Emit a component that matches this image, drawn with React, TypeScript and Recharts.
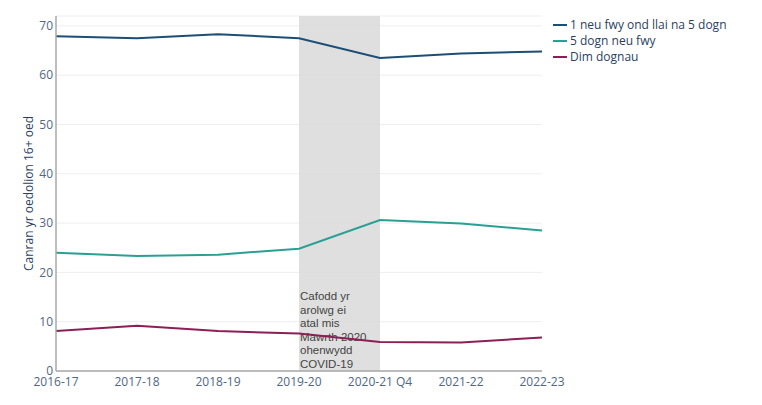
import React from "react";
import { LineChart, Line, XAxis, YAxis, CartesianGrid, ReferenceArea } from "recharts";

const categories = ["2016-17", "2017-18", "2018-19", "2019-20", "2020-21 Q4", "2021-22", "2022-23"];
const series1 = [67.9, 67.5, 68.3, 67.5, 63.5, 64.4, 64.8];
const series5 = [24.0, 23.3, 23.6, 24.8, 30.6, 29.9, 28.5];
const seriesNone = [8.1, 9.2, 8.1, 7.6, 5.9, 5.8, 6.8];
const yTicks = [0, 10, 20, 30, 40, 50, 60, 70];
const seriesNames = ["1 neu fwy ond llai na 5 dogn", "5 dogn neu fwy", "Dim dognau"];
const seriesColors = ["#1d4e75", "#2aa094", "#8c1f56"];
const noteLines = ["Cafodd yr", "arolwg ei", "atal mis", "Mawrth 2020", "ohenwydd", "COVID-19"];
const yLabel = "Canran yr oedolion 16+ oed";

const data = categories.map((c, i) => ({
  cat: c,
  s1: series1[i],
  s5: series5[i],
  s0: seriesNone[i],
}));

const NoteLabel = (props: any) => {
  const vb = props.viewBox || {};
  const x = (vb.x ?? 0) + 1;
  const bottom = (vb.y ?? 0) + (vb.height ?? 0);
  const lh = 13.6;
  return (
    <text fontFamily="'Liberation Sans', Arial, sans-serif" fontSize={11.5} fill="#444">
      {noteLines.map((l, i) => (
        <tspan key={i} x={x} y={bottom - 3 - (noteLines.length - 1 - i) * lh}>
          {l}
        </tspan>
      ))}
    </text>
  );
};

const YLabel = (props: any) => {
  const vb = props.viewBox || {};
  const cx = (vb.x ?? 0) + 2;
  const cy = (vb.y ?? 0) + (vb.height ?? 0) / 2;
  return (
    <text
      x={cx}
      y={cy}
      transform={`rotate(-90 ${cx} ${cy})`}
      textAnchor="middle"
      dominantBaseline="central"
      fill="#2a3f5f"
      fontSize={12}
      fontFamily="'Open Sans', sans-serif"
    >
      {yLabel}
    </text>
  );
};

const LegendBox = () => (
  <div
    style={{
      position: "absolute",
      left: 553,
      top: 17,
      fontFamily: "'Open Sans', sans-serif",
      fontSize: 12,
      color: "#2a3f5f",
      lineHeight: "16px",
    }}
  >
    {seriesNames.map((n, i) => (
      <div key={i} style={{ display: "flex", alignItems: "center", height: 16 }}>
        <span style={{ display: "inline-block", width: 14, height: 2, background: seriesColors[i], marginRight: 3 }} />
        <span>{n}</span>
      </div>
    ))}
  </div>
);

export default function App() {
  return (
    <div style={{ position: "absolute", left: 0, top: 0, width: 762, height: 405, background: "#fff" }}>
      <LineChart width={762} height={405} data={data} margin={{ top: 16, right: 220, bottom: 0, left: 26 }}>
        <CartesianGrid horizontal vertical={false} stroke="#eeeeee" strokeWidth={1} />
        <ReferenceArea x1="2019-20" x2="2020-21 Q4" y1={0} y2={72} fill="#d9d9d9" fillOpacity={0.85} stroke="none" label={<NoteLabel />} />
        <XAxis
          dataKey="cat"
          interval={0}
          padding={{ left: 0, right: 0 }}
          tickLine={false}
          axisLine={{ stroke: "#a8a8a8", strokeWidth: 1.5 }}
          tick={{ fill: "#506784", fontSize: 12, fontFamily: "'Open Sans', sans-serif" }}
          tickMargin={0}
          height={34}
        />
        <YAxis
          type="number"
          domain={[0, 72]}
          ticks={yTicks}
          width={30}
          tickLine={false}
          tickSize={3}
          axisLine={{ stroke: "#a8a8a8", strokeWidth: 1.5 }}
          tick={{ fill: "#506784", fontSize: 12, fontFamily: "'Open Sans', sans-serif" }}
          tickMargin={0}
          label={<YLabel />}
        />
        <Line type="linear" dataKey="s1" name={seriesNames[0]} stroke={seriesColors[0]} strokeWidth={2} dot={false} isAnimationActive={false} />
        <Line type="linear" dataKey="s5" name={seriesNames[1]} stroke={seriesColors[1]} strokeWidth={2} dot={false} isAnimationActive={false} />
        <Line type="linear" dataKey="s0" name={seriesNames[2]} stroke={seriesColors[2]} strokeWidth={2} dot={false} isAnimationActive={false} />
      </LineChart>
      <LegendBox />
    </div>
  );
}
